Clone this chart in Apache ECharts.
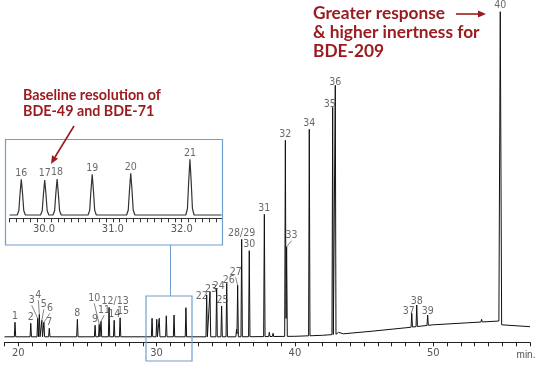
<!DOCTYPE html>
<html><head><meta charset="utf-8">
<script src="https://cdn.jsdelivr.net/npm/echarts@6/dist/echarts.min.js"></script>
<style>html,body{margin:0;padding:0;background:#fff}#c{width:540px;height:365px}</style>
</head><body><div id="c"></div>
<script>
// ---- data (time in min, signal in arbitrary units) ----
const peakLabels = ['1','2','3','4','5','6','7','8','9','10','11','12/13','14','15','16','17','18','19','20','21','22','23','24','25','26','27','28/29','30','31','32','33','34','35','36','37','38','39','40'];
const peakTimes = [19.76,20.90,21.40,21.52,21.70,21.85,22.24,24.27,25.55,25.85,25.98,26.56,26.93,27.36,29.67,30.01,30.19,30.70,31.26,32.12,33.62,33.86,34.34,34.70,35.07,35.86,36.15,36.70,37.79,39.31,39.40,41.04,42.73,42.92,48.45,48.81,49.60,54.85];
const peakTops = [20,19,24,28,22,20,14,23,17,18,21,35,22,24.5,24,23,24,26.5,27.3,34.6,47.3,50.6,54,36.3,59,57,103,91.6,128,202,95.6,213,235,257,29,37.3,27.3,330.6];
const minorTimes = [35.78,38.15,38.42,41.2,43.15,53.5];
const minorTops = [13,10,9,8,10,23];
const baselineTimes = [19,30,36,40,42,43.5,45.5,48,50,52.5,54.75,55.05,57];
const baselineValues = [5.5,5.5,5.5,6,7,8.5,11,14.5,17.5,19.5,21.3,15.6,15.6];
const mainTickLabels = [20,30,40,50];

const insetLabels = ['16','17','18','19','20','21'];
const insetTimes = [29.67,30.01,30.19,30.70,31.26,32.12];
const insetTops = [39,38.3,39.3,44,45,59];
const insetBaseline = 3.3;
const insetTickLabels = [30.0,31.0,32.0];

// ---- styling / layout (not data) ----
const RED = '#9b1c20', BLUE = '#6f9fd0', LABEL = '#444';
const labelShift = {'3':[-6,-12,1],'4':[-1,-13,1],'5':[2,-10,1],'6':[6,-8,1],'10':[-5,-20,1],'11':[3,-5,1],
  '12/13':[6,0,0],'15':[3,0,0],'22':[-5,8,0],'23':[1,4,0],'24':[2,4,0],'25':[1,1,0],'26':[2,3,0],'27':[-2,-7,1],
  '33':[5,-5,1],'35':[-3,3,0],'36':[0,3,0],'37':[-3,4,0],'38':[0,3,0],'39':[0,3,0]};
const halfWidth = {'40':0.1};

function baseAt(t){
  for(let i=0;i<baselineTimes.length-1;i++){
    if(t>=baselineTimes[i] && t<=baselineTimes[i+1]){
      const f=(t-baselineTimes[i])/(baselineTimes[i+1]-baselineTimes[i]);
      return baselineValues[i]+f*(baselineValues[i+1]-baselineValues[i]);
    }
  }
  return baselineValues[baselineValues.length-1];
}
// peak profile: piecewise-linear shape factor
const shapeU=[0,0.3,0.6,1], shapeF=[1,0.6,0.12,0];
function shape(u){
  u=Math.abs(u); if(u>=1) return 0;
  for(let i=0;i<shapeU.length-1;i++) if(u<=shapeU[i+1]){const f=(u-shapeU[i])/(shapeU[i+1]-shapeU[i]);return shapeF[i]+f*(shapeF[i+1]-shapeF[i]);}
  return 0;
}
function tri(u){u=Math.abs(u);return u>=1?0:1-u;}

// main trace
const allT = peakTimes.concat(minorTimes), allTop = peakTops.concat(minorTops);
const allLab = peakLabels.concat(minorTimes.map(()=>''));
const hw = allLab.map(l=>halfWidth[l]||0.05);
let ts = baselineTimes.slice();
allT.forEach((t,i)=>{ts.push(t-hw[i],t,t+hw[i]);});
ts = Array.from(new Set(ts.map(t=>+t.toFixed(4)))).sort((a,b)=>a-b);
const mainLine = ts.map(t=>{
  let v=baseAt(t);
  allT.forEach((p,i)=>{v+=(allTop[i]-baseAt(p))*tri((t-p)/hw[i]);});
  return [t,v];
});
// inset trace
const ihw=0.06;
let its=[29.5,32.58];
insetTimes.forEach(t=>{shapeU.forEach(u=>{its.push(t-u*ihw,t+u*ihw);});});
its=Array.from(new Set(its.map(t=>+t.toFixed(4)))).sort((a,b)=>a-b);
const insetLine = its.map(t=>{
  let v=insetBaseline;
  insetTimes.forEach((p,i)=>{v+=(insetTops[i]-insetBaseline)*shape((t-p)/ihw);});
  return [t,v];
});

// main labels: peaks shown in the inset are labelled only there
const mainLabelData = [];
peakLabels.forEach((l,i)=>{
  if(insetLabels.indexOf(l)>=0) return;
  const s=labelShift[l];
  mainLabelData.push({name:l,value:[peakTimes[i],peakTops[i]],labelLine:{show:!!(s&&s[2])}});
});
const insetLabelData = insetLabels.map((l,i)=>({name:l,value:[insetTimes[i],insetTops[i]]}));

const chart = echarts.init(document.getElementById('c'),null,{renderer:'canvas'});
const labelFont = {fontFamily:'"Liberation Sans Narrow","DejaVu Sans Condensed","Roboto Condensed",sans-serif',fontSize:10.5,color:LABEL};
chart.setOption({
  animation:false,
  grid:[{left:4.5,right:10,top:5,bottom:22.7},{left:9.6,right:318.4,top:145,bottom:146.7}],
  xAxis:[
    {type:'value',gridIndex:0,min:19,max:57,interval:1,
     axisLine:{lineStyle:{color:'#222',width:1}},axisTick:{length:4,lineStyle:{color:'#222'}},
     splitLine:{show:false},
     axisLabel:Object.assign({},labelFont,{margin:5,fontSize:11,color:'#555',formatter:v=>mainTickLabels.indexOf(v)>=0?String(v):''})},
    {type:'value',gridIndex:1,min:29.5,max:32.58,interval:0.1,
     axisLine:{lineStyle:{color:'#333',width:1}},axisTick:{length:4,lineStyle:{color:'#333'}},
     splitLine:{show:false},
     axisLabel:Object.assign({},labelFont,{margin:5,fontSize:11,color:'#555',showMaxLabel:false,formatter:v=>insetTickLabels.some(x=>Math.abs(x-v)<1e-6)?v.toFixed(1):''})}
  ],
  yAxis:[
    {type:'value',gridIndex:0,min:0,max:337.3,show:false},
    {type:'value',gridIndex:1,min:0,max:73.3,show:false}
  ],
  series:[
    {type:'line',xAxisIndex:0,yAxisIndex:0,data:mainLine,showSymbol:false,lineStyle:{color:'#111',width:1},z:2},
    {type:'scatter',xAxisIndex:0,yAxisIndex:0,data:mainLabelData,symbolSize:0.01,z:3,
     label:Object.assign({show:true,position:'top',distance:1,formatter:'{b}'},labelFont),
     labelLine:{show:false,lineStyle:{color:'#666',width:0.8}},
     labelLayout:p=>{const s=labelShift[mainLabelData[p.dataIndex].name];return s?{dx:s[0],dy:s[1]}:{};}},
    {type:'line',xAxisIndex:1,yAxisIndex:1,data:insetLine,showSymbol:false,lineStyle:{color:'#333',width:1.2},z:2},
    {type:'scatter',xAxisIndex:1,yAxisIndex:1,data:insetLabelData,symbolSize:0.01,z:3,
     label:Object.assign({show:true,position:'top',distance:1,formatter:'{b}'},labelFont)}
  ],
  graphic:[
    {type:'rect',shape:{x:5.5,y:139.5,width:217,height:105.5},style:{fill:'none',stroke:BLUE,lineWidth:1.2},z:10},
    {type:'rect',shape:{x:146,y:296,width:46,height:65},style:{fill:'none',stroke:BLUE,lineWidth:1.2},z:10},
    {type:'line',shape:{x1:170.5,y1:245,x2:170.5,y2:296},style:{stroke:BLUE,lineWidth:1},z:10},
    {type:'text',x:23,y:88,style:{text:'Baseline resolution of\nBDE-49 and BDE-71',fill:RED,fontFamily:'Lato',fontWeight:'bold',fontSize:14.3,lineHeight:15.5,verticalAlign:'top'},z:10},
    {type:'line',shape:{x1:74,y1:126,x2:55,y2:157},style:{stroke:RED,lineWidth:1.6},z:10},
    {type:'polygon',shape:{points:[[51,164],[58,158.7],[52,155.3]]},style:{fill:RED},z:10},
    {type:'text',x:313,y:4,style:{text:'Greater response\n& higher inertness for\nBDE-209',fill:RED,fontFamily:'Lato',fontWeight:'bold',fontSize:17.3,lineHeight:19,verticalAlign:'top'},z:10},
    {type:'line',shape:{x1:456,y1:14,x2:479,y2:14},style:{stroke:RED,lineWidth:1.6},z:10},
    {type:'polygon',shape:{points:[[486,14],[478,10.5],[478,17.5]]},style:{fill:RED},z:10},
    {type:'text',x:526,y:355,style:{text:'min.',fill:'#555',fontFamily:'"Liberation Sans Narrow",sans-serif',fontSize:10,align:'center',verticalAlign:'middle'},z:10}
  ]
});
</script></body></html>
